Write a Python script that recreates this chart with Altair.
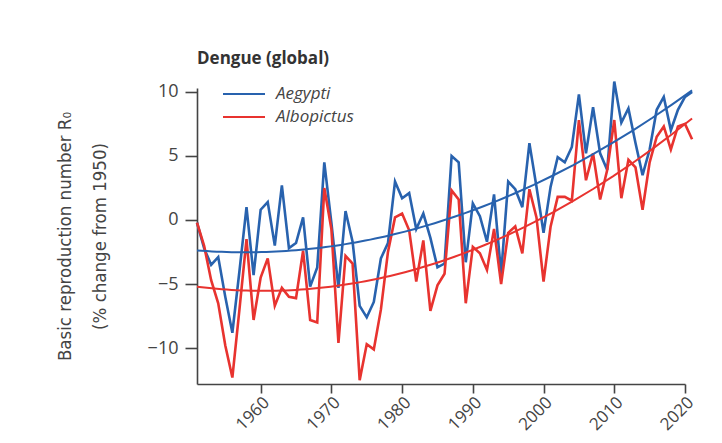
import altair as alt
import pandas as pd

years = list(range(1951, 2022))

aegypti = [
    -0.2, -2.2, -3.5, -2.9, -6.0, -8.8, -4.0, 1.0, -4.3, 0.8,
    1.4, -2.0, 2.7, -2.2, -1.8, 0.2, -5.2, -3.7, 4.5, -0.2,
    -5.3, 0.7, -1.7, -6.7, -7.6, -6.4, -3.0, -1.8, 3.0, 1.7,
    2.1, -0.7, 0.5, -1.4, -3.7, -3.4, 5.0, 4.5, -3.3, 1.3,
    0.3, -1.7, 2.0, -4.2, 3.0, 2.4, 1.0, 6.0, 2.6, -1.0,
    2.6, 4.9, 4.5, 5.7, 9.8, 5.2, 8.8, 5.2, 3.9, 10.8,
    7.6, 8.7, 6.0, 3.5, 5.5, 8.6, 9.6, 7.0, 8.6, 9.6,
    10.0,
]

albopictus = [
    -0.2, -2.0, -4.7, -6.5, -9.8, -12.3, -7.0, -1.5, -7.8, -4.5,
    -3.0, -6.7, -5.3, -6.0, -6.1, -2.4, -7.8, -8.0, 2.5, -0.7,
    -9.6, -2.8, -3.4, -12.5, -9.7, -10.1, -7.0, -2.5, 0.2, 0.5,
    -0.8, -4.8, -1.6, -7.1, -5.1, -4.2, 2.3, 1.6, -6.5, -2.1,
    -2.6, -3.9, -0.7, -5.0, -1.0, -0.5, -2.6, 2.4, 0.2, -4.8,
    -0.5, 1.8, 1.8, 1.5, 7.8, 3.1, 5.2, 1.6, 3.9, 7.8,
    1.7, 4.7, 4.1, 0.8, 4.5, 6.5, 7.3, 5.5, 7.3, 7.5,
    6.3,
]

species = ["Aegypti", "Albopictus"]
colors = ["#2862ae", "#e8332f"]
x_ticks = [1960, 1970, 1980, 1990, 2000, 2010, 2020]
y_ticks = [-10, -5, 0, 5, 10]

df = pd.DataFrame({
    "year": years + years,
    "value": aegypti + albopictus,
    "species": [species[0]] * len(years) + [species[1]] * len(years),
})

FONT = "Open Sans"
COND = "'DejaVu Sans Condensed', 'Liberation Sans Narrow', 'Open Sans', sans-serif"

x_enc = alt.X(
    "year:Q",
    scale=alt.Scale(domain=[1951, 2020], nice=False, zero=False),
    axis=alt.Axis(
        values=x_ticks, format="d", labelAngle=-45, grid=False,
        labelFontSize=17, labelColor="#444", labelFont=FONT,
        domainColor="#444", domainWidth=1.6, tickColor="#444",
        tickWidth=1.6, tickSize=9, labelPadding=1,
    ),
    title=None,
)
y_enc = alt.Y(
    "value:Q",
    scale=alt.Scale(domain=[-12.8, 10.3], nice=False, zero=False),
    axis=alt.Axis(
        values=y_ticks, grid=False,
        labelFontSize=18, labelColor="#444", labelFont=FONT,
        domainColor="#444", domainWidth=1.6, tickColor="#444",
        tickWidth=1.6, tickSize=12, labelPadding=7,
        titleFont=COND, titleFontSize=18.5,
        titleFontWeight="normal", titleColor="#444",
        titleAngle=-90, titleX=-133, titleY=148, titleAlign="center",
        titleBaseline="middle", titleLineHeight=35,
    ),
    title=["Basic reproduction number R\u2080", "(% change from 1950)"],
)
color_enc = alt.Color(
    "species:N",
    scale=alt.Scale(domain=species, range=colors),
    legend=alt.Legend(
        title=None, orient="none", legendX=35, legendY=-6,
        symbolType="M-2,0H2", symbolSize=441, symbolStrokeWidth=2.2,
        symbolFillColor="transparent",
        labelFontSize=17, labelFontStyle="italic", labelColor="#444",
        labelFont=FONT, rowPadding=3, labelOffset=20,
    ),
)

base = alt.Chart(df)

lines = base.mark_line(strokeWidth=2.6, clip=False).encode(
    x=x_enc, y=y_enc, color=color_enc
)

trend = base.transform_regression(
    "year", "value", groupby=["species"], method="poly", order=2,
    extent=[1951, 2021],
).mark_line(strokeWidth=2, clip=False).encode(
    x=x_enc, y=y_enc, color=color_enc
)

chart = alt.layer(lines, trend).properties(
    width=488,
    height=296,
    title=alt.TitleParams(
        "Dengue (global)", anchor="start", fontSize=17, fontWeight="bold",
        color="#333", font=FONT, offset=8, frame="group",
    ),
    autosize=alt.AutoSizeParams(type="none"),
    padding={"left": 189, "top": 80, "right": 29, "bottom": 51},
).configure_view(stroke=None)

chart.save("out.html", embed_options={"renderer": "svg", "actions": False})
